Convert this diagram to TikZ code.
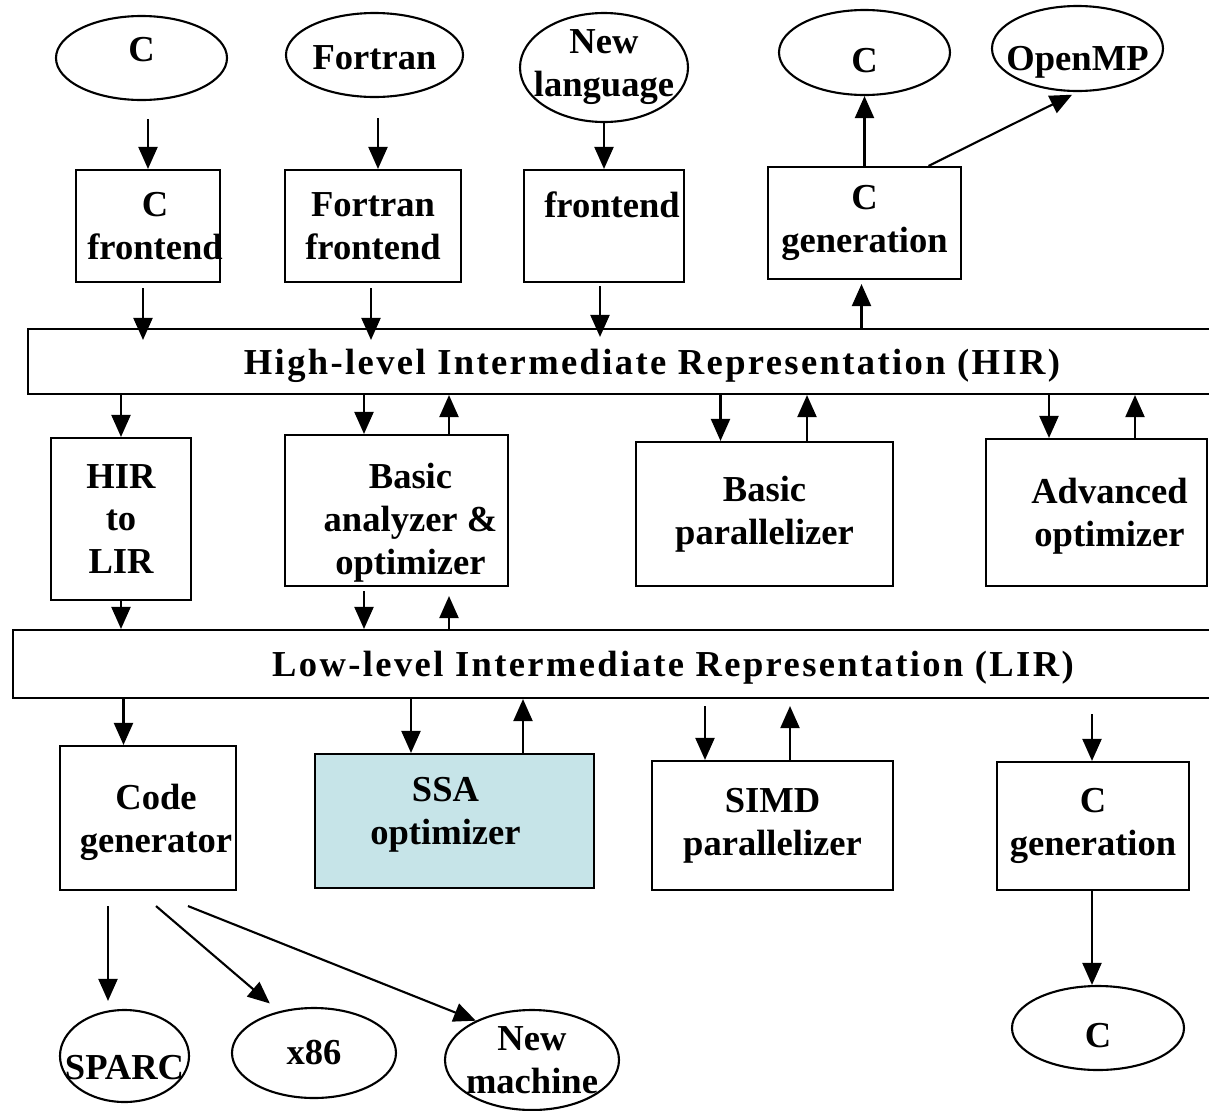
\documentclass[tikz,border=0pt]{standalone}
\usepackage{fontspec}
\setmainfont{Liberation Serif}
\usetikzlibrary{arrows.meta,shapes.geometric}
\definecolor{ssafill}{RGB}{198,228,232}

\begin{document}
\begin{tikzpicture}[font=\fontsize{10.4}{12.2}\selectfont\bfseries,line width=.6pt,>={Triangle[length=2.2mm,width=1.9mm]},
  box/.style={draw,inner sep=0pt,align=center},
  oval/.style={ellipse,draw,inner sep=0pt},
  bar/.style={draw,inner sep=0pt,text depth=0pt,font=\fontsize{10.4}{12.2}\selectfont\bfseries\addfontfeature{LetterSpace=6.5}}]
  \useasboundingbox (0,0) rectangle (12.09,-11.11);
  \clip (0,0) rectangle (12.09,-11.11);

  \node[oval,minimum width=1.71cm,minimum height=.84cm,label={[yshift=.8mm]center:C}] (srcC) at (1.415,-.58) {};
  \node[oval,minimum width=1.77cm,minimum height=.84cm,label={[yshift=-.3mm]center:Fortran}] (srcF) at (3.745,-.55) {};
  \node[oval,minimum width=1.68cm,minimum height=1.09cm,label={[align=center]center:New\\language}] (srcN) at (6.04,-.675) {};
  \node[oval,minimum width=1.71cm,minimum height=.85cm,label={[yshift=-.8mm]center:C}] (outC) at (8.645,-.525) {};
  \node[oval,minimum width=1.71cm,minimum height=.85cm,label={[yshift=-1.4mm]center:OpenMP}] (outMP) at (10.775,-.485) {};

  \node[box,minimum width=1.44cm,minimum height=1.12cm,label={[align=center,xshift=.7mm]center:C\\frontend}] (feC) at (1.48,-2.26) {};
  \node[box,minimum width=1.76cm,minimum height=1.12cm] (feF) at (3.73,-2.26) {Fortran\\frontend};
  \node[box,minimum width=1.60cm,minimum height=1.12cm,label={[align=center,xshift=.8mm]center:frontend\\~}] (feN) at (6.04,-2.26) {};
  \node[box,minimum width=1.93cm,minimum height=1.12cm] (genT) at (8.645,-2.23) {C\\generation};

  \node[bar,minimum width=12.48cm,minimum height=.65cm] (hir) at (6.52,-3.615) {High-level Intermediate Representation (HIR)};

  \node[box,minimum width=1.40cm,minimum height=1.62cm] (h2l) at (1.21,-5.19) {HIR\\to\\LIR};
  \node[box,minimum width=2.23cm,minimum height=1.51cm,label={[align=center,xshift=1.4mm,yshift=-1.2mm]center:Basic\\analyzer \&\\optimizer}] (bao) at (3.965,-5.105) {};
  \node[box,minimum width=2.57cm,minimum height=1.44cm] (bpar) at (7.645,-5.14) {Basic\\parallelizer};
  \node[box,minimum width=2.21cm,minimum height=1.47cm,label={[align=center,xshift=1.3mm,yshift=-.4mm]center:Advanced\\optimizer}] (aopt) at (10.965,-5.125) {};

  \node[bar,text depth=-1pt,minimum width=13.20cm,minimum height=.68cm] (lir) at (6.73,-6.64) {Low-level Intermediate Representation (LIR)};

  \node[box,minimum width=1.76cm,minimum height=1.44cm,label={[align=center,xshift=.8mm,yshift=-.4mm]center:Code\\generator}] (cg) at (1.48,-8.18) {};
  \node[box,fill=ssafill,minimum width=2.79cm,minimum height=1.34cm,label={[align=center,xshift=-.9mm,yshift=.6mm]center:SSA\\optimizer}] (ssa) at (4.545,-8.21) {};
  \node[box,minimum width=2.41cm,minimum height=1.29cm] (simd) at (7.725,-8.255) {SIMD\\parallelizer};
  \node[box,minimum width=1.92cm,minimum height=1.28cm] (genB) at (10.93,-8.26) {C\\generation};

  \node[oval,minimum width=1.29cm,minimum height=.92cm,label={[yshift=-1.2mm]center:SPARC}] (sparc) at (1.245,-10.56) {};
  \node[oval,minimum width=1.64cm,minimum height=.90cm,label=center:x86] (x86) at (3.14,-10.53) {};
  \node[oval,minimum width=1.74cm,minimum height=1.00cm,label={[align=center]center:New\\machine}] (nmach) at (5.32,-10.60) {};
  \node[oval,minimum width=1.72cm,minimum height=.84cm,label={[yshift=-.8mm]center:C}] (outC2) at (10.98,-10.28) {};

  \draw[->,shorten <=1.8mm] (srcC.south -| feC.north) -- (feC.north);
  \draw[->,shorten <=2mm] ([xshift=.5mm]feF.north |- srcF.south) -- ([xshift=.5mm]feF.north);
  \draw[->] (srcN.south) -- (feN.north);
  \draw[->,shorten <=.5mm,shorten >=-1.2mm] ([xshift=-.5mm]feC.south) -- ([xshift=-.5mm]feC.south |- hir.north);
  \draw[->,shorten <=.5mm,shorten >=-1.2mm] ([xshift=-.2mm]feF.south) -- ([xshift=-.2mm]feF.south |- hir.north);
  \draw[->,shorten <=.3mm,shorten >=-.9mm] ([xshift=-.4mm]feN.south) -- ([xshift=-.4mm]feN.south |- hir.north);
  \draw[->,shorten >=.4mm] ([xshift=-.3mm]genT.south |- hir.north) -- ([xshift=-.3mm]genT.south);
  \draw[->] (genT.north) -- (outC.south);
  \draw[->,shorten >=.6mm] ([xshift=6.4mm]genT.north) -- (outMP.south);

  \draw[->] (h2l.north |- hir.south) -- (h2l.north);
  \draw[->] ([xshift=-3.25mm]bao.north |- hir.south) -- ([xshift=-3.25mm]bao.north);
  \draw[->] ([xshift=5.25mm]bao.north) -- ([xshift=5.25mm]bao.north |- hir.south);
  \draw[->] ([xshift=-4.4mm]bpar.north |- hir.south) -- ([xshift=-4.4mm]bpar.north);
  \draw[->] ([xshift=4.25mm]bpar.north) -- ([xshift=4.25mm]bpar.north |- hir.south);
  \draw[->] ([xshift=-4.75mm]aopt.north |- hir.south) -- ([xshift=-4.75mm]aopt.north);
  \draw[->] ([xshift=3.85mm]aopt.north) -- ([xshift=3.85mm]aopt.north |- hir.south);

  \draw[->] (h2l.south) -- (h2l.south |- lir.north);
  \draw[->,shorten <=.4mm] ([xshift=-3.25mm]bao.south) -- ([xshift=-3.25mm]bao.south |- lir.north);
  \draw[->,shorten >=.9mm] ([xshift=5.25mm]bao.south |- lir.north) -- ([xshift=5.25mm]bao.south);
  \draw[->] ([xshift=-2.45mm]cg.north |- lir.south) -- ([xshift=-2.45mm]cg.north);
  \draw[->] ([xshift=-4.35mm]ssa.north |- lir.south) -- ([xshift=-4.35mm]ssa.north);
  \draw[->] ([xshift=6.85mm]ssa.north) -- ([xshift=6.85mm]ssa.north |- lir.south);
  \draw[->,shorten <=.7mm] ([xshift=-6.75mm]simd.north |- lir.south) -- ([xshift=-6.75mm]simd.north);
  \draw[->,shorten >=.7mm] ([xshift=1.75mm]simd.north) -- ([xshift=1.75mm]simd.north |- lir.south);
  \draw[->,shorten <=1.5mm] ([xshift=-.1mm]genB.north |- lir.south) -- ([xshift=-.1mm]genB.north);
  \draw[->] ([xshift=-.1mm]genB.south) -- ([xshift=-.1mm]genB.south |- outC2.north);

  \draw[->,shorten <=1.5mm,shorten >=.8mm] ([xshift=-4mm]cg.south) -- ([xshift=-4mm]cg.south |- sparc.north);
  \draw[->,shorten >=1.2mm] ([xshift=.8mm,yshift=-1.5mm]cg.south) -- (x86.130);
  \draw[->] ([xshift=4mm,yshift=-1.5mm]cg.south) -- (nmach.145);
\end{tikzpicture}
\end{document}
